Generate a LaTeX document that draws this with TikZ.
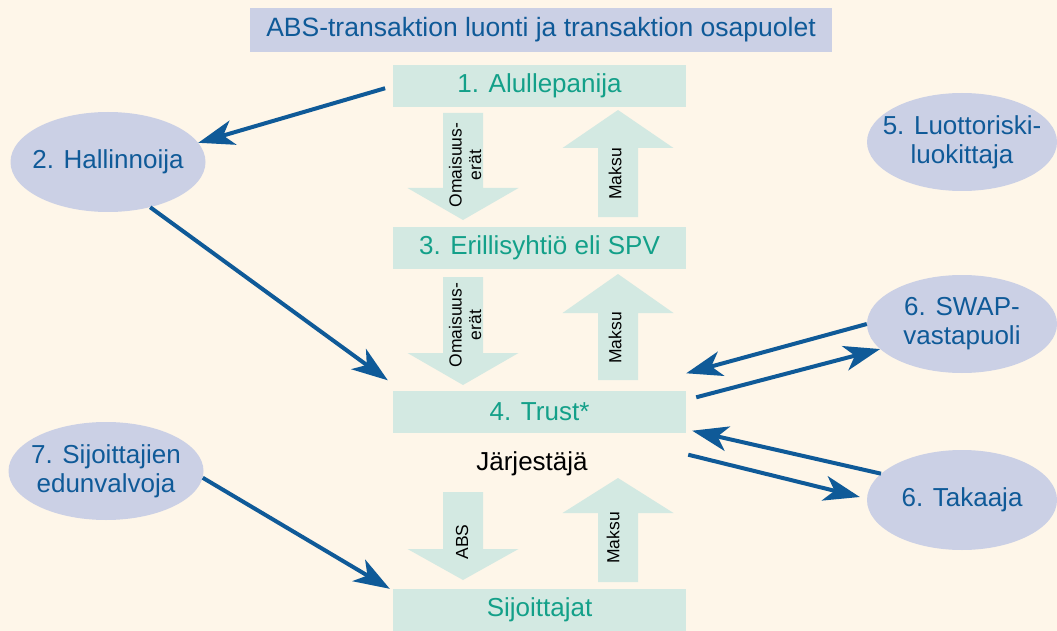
\documentclass[tikz,border=0pt]{standalone}
\usepackage{fontspec}
\setmainfont{Liberation Sans}
\usetikzlibrary{arrows.meta,shapes.geometric}
\definecolor{cream}{HTML}{FEF6E9}
\definecolor{lavender}{HTML}{CBD0E5}
\definecolor{mint}{HTML}{D3E9E2}
\definecolor{tealtext}{HTML}{13A089}
\definecolor{bluetext}{HTML}{0F5A98}
\newcommand{\shaftw}{20}
\newcommand{\headw}{55.5}
% block arrows: x, shaft end, head base, tip
\newcommand{\blockdown}[4]{\fill[mint] (#1-\shaftw,#2) -- (#1+\shaftw,#2) -- (#1+\shaftw,#3) -- (#1+\headw,#3) -- (#1,#4) -- (#1-\headw,#3) -- (#1-\shaftw,#3) -- cycle;}

\begin{document}
\begin{tikzpicture}[x=1pt,y=-1pt]
	\tikzset{
		party/.style = {ellipse, fill=lavender, inner ysep=0pt, inner xsep=-35pt, align=center,
			text=bluetext, font=\fontsize{26}{29}\selectfont},
		stage/.style = {rectangle, fill=mint, inner sep=0pt, minimum width=293pt,
			minimum height=42pt, text=tealtext, font=\fontsize{26}{29}\selectfont},
		flowlabel/.style = {rotate=90, align=center, inner sep=0pt,
			font=\fontsize{17.5}{19.5}\selectfont},
		link/.style = {draw=bluetext, line width=4pt,
			-{Stealth[length=36pt,width=25pt,inset=10pt]}}
	}
	\fill[cream] (0,0) rectangle (1057,631);
	\useasboundingbox (0,0) rectangle (1057,631);
	%\draw[help lines] (0,0) grid (1057,631);
	\node[rectangle, fill=lavender, minimum width=582pt, minimum height=44pt, inner sep=0pt,
		text=bluetext, font=\fontsize{26.5}{29}\selectfont] (title) at (541,30)
		{ABS-transaktion luonti ja transaktion osapuolet};
	% the chain
	\node[stage] (alulle) at (539.5,86) {1. Alullepanija};
	\node[stage] (spv) at (539.5,247.5) {3. Erillisyhtiö eli SPV};
	\node[stage] (trust) at (539.5,411.5) {4. Trust*};
	\node[font=\fontsize{26}{29}\selectfont] (jarj) at (532,464) {Järjestäjä};
	\node[stage] (sijoit) at (539.5,610) {Sijoittajat};
	% block arrows
	\blockdown{463}{113}{188}{220}
	\blockdown{618}{217}{148}{110}
	\blockdown{463}{277}{353}{385}
	\blockdown{618}{380}{313}{274}
	\blockdown{463}{492}{549}{580}
	\blockdown{618}{582}{513}{478}
	\node[flowlabel] (oma1) at (465,165) {Omaisuus-\\erät};
	\node[flowlabel] (mak1) at (615,174) {Maksu};
	\node[flowlabel] (oma2) at (465,325) {Omaisuus-\\erät};
	\node[flowlabel] (mak2) at (615,338) {Maksu};
	\node[flowlabel] (abs) at (462,542) {ABS};
	\node[flowlabel] (mak3) at (613,538) {Maksu};
	% the other parties
	\node[party, minimum width=195pt, minimum height=100pt] (hall) at (108,162) {2. Hallinnoija};
	\node[party, minimum width=190pt, minimum height=98pt] (luott) at (962,142) {5. Luottoriski-\\luokittaja};
	\node[party, minimum width=190pt, minimum height=98pt] (swap) at (962,324) {6. SWAP-\\vastapuoli};
	\node[party, minimum width=190pt, minimum height=100pt] (takaaja) at (962,500) {6. Takaaja};
	\node[party, minimum width=195pt, minimum height=98pt] (edun) at (106,471) {7. Sijoittajien\\edunvalvoja};
	% connectors
	\draw[link, shorten <=8pt] (alulle.west) -- (hall.12);
	\draw[link] (hall.-47) -- ([xshift=-5pt,yshift=10pt]trust.north west);
	\draw[link] (swap.west) -- ([yshift=17pt]trust.north east);
	\draw[link] ([xshift=10pt,yshift=-7pt]trust.north east) -- (swap.197);
	\draw[link] (takaaja.162) -- ([xshift=6pt,yshift=2pt]trust.south east);
	\draw[link] ([xshift=2pt,yshift=-22pt]trust.south east) -- ([xshift=-7pt,yshift=3pt]takaaja.west);
	\draw[link] (edun.-4) -- ([xshift=-3pt]sijoit.north west);
\end{tikzpicture}
\end{document}
